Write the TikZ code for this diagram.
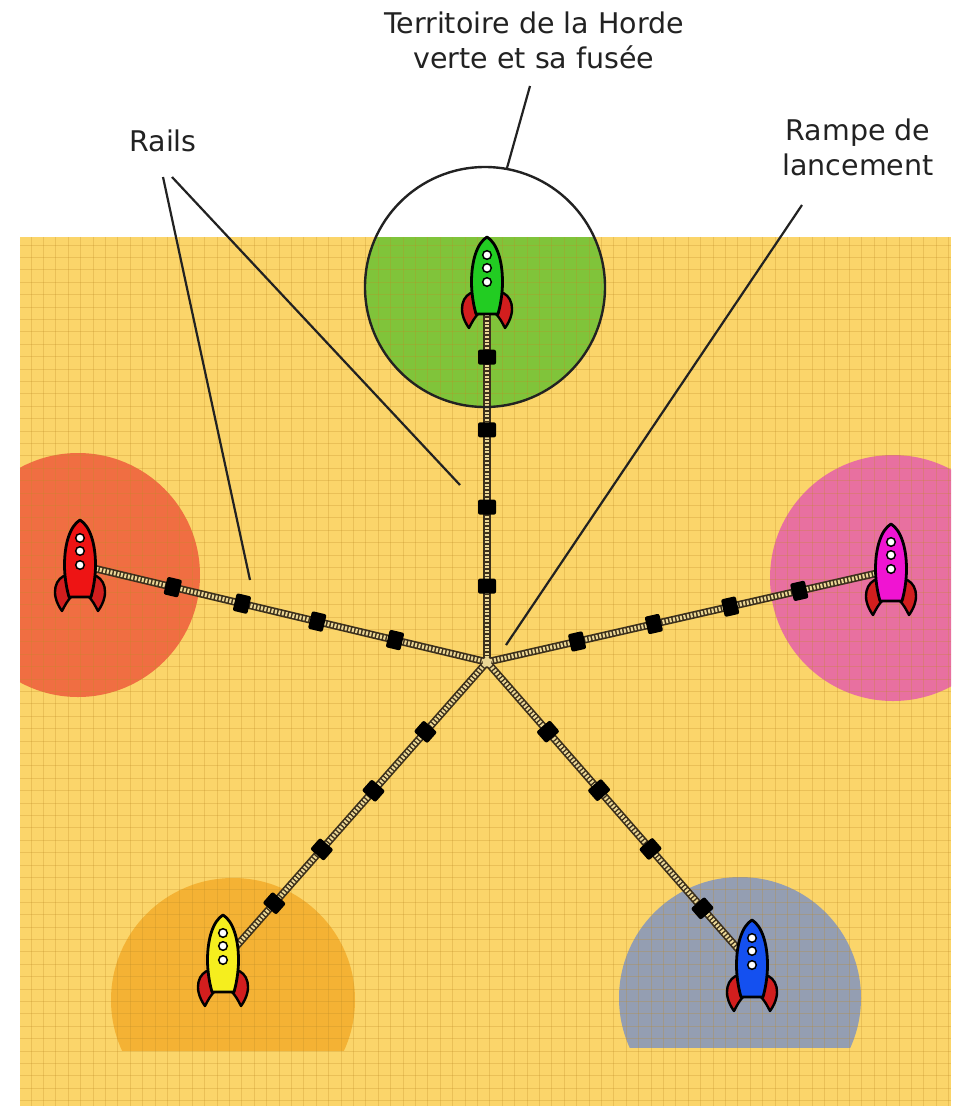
\documentclass[tikz,border=0pt]{standalone}
\usepackage{fontspec}
\setmainfont{DejaVu Sans}
\definecolor{sand}{RGB}{251,213,106}
\definecolor{gridtone}{RGB}{190,140,40}
\definecolor{zoneGreen}{RGB}{128,196,58}
\definecolor{zoneRed}{RGB}{240,110,66}
\definecolor{zonePink}{RGB}{232,112,160}
\definecolor{zoneOrange}{RGB}{244,178,52}
\definecolor{zoneGrey}{RGB}{148,158,178}
\definecolor{rocketGreen}{RGB}{34,204,34}
\definecolor{rocketRed}{RGB}{238,20,20}
\definecolor{rocketPink}{RGB}{240,20,210}
\definecolor{rocketYellow}{RGB}{245,238,30}
\definecolor{rocketBlue}{RGB}{20,80,240}
\definecolor{finRed}{RGB}{210,30,30}
\definecolor{railDark}{RGB}{60,48,28}
\definecolor{railLight}{RGB}{235,215,150}
\definecolor{ink}{RGB}{34,34,34}
\begin{document}
\begin{tikzpicture}[x=1pt,y=-1pt,
  gridline/.style={gridtone,opacity=0.28,line width=1pt},
  railbed/.style={railDark,line width=7.5pt},
  railties/.style={railLight,line width=4.2pt,dash pattern=on 2pt off 1.6pt},
  tie/.style={fill=black,rounded corners=2pt,minimum width=15pt,minimum height=18pt,inner sep=0pt,sloped,anchor=center},
  hubstyle/.style={circle,fill=railLight,minimum size=9pt,inner sep=0pt},
  pointer/.style={ink,line width=2.2pt},
  caption/.style={ink,font=\fontsize{28.5}{35}\selectfont,align=center,inner sep=0pt},
  pics/rocket/.style={code={
    % fins behind the body
    \draw[fill=finRed,line width=2.4pt,line join=round]
      (-13,55) .. controls (-24,57) and (-31,73) .. (-18,91)
      .. controls (-15,85) and (-12,80) .. (-9,77) -- cycle;
    \draw[fill=finRed,line width=2.4pt,line join=round]
      (13,55) .. controls (24,57) and (31,73) .. (18,91)
      .. controls (15,85) and (12,80) .. (9,77) -- cycle;
    % body
    \draw[fill=#1,line width=2.8pt,line join=round]
      (0,0) .. controls (10,6) and (15.5,24) .. (15.5,45)
      .. controls (15.5,58) and (13,70) .. (11,77)
      -- (-11,77)
      .. controls (-13,70) and (-15.5,58) .. (-15.5,45)
      .. controls (-15.5,24) and (-10,6) .. (0,0) -- cycle;
    % portholes
    \foreach \py in {18,31,45}
      \draw[fill=white,line width=1.5pt] (0,\py) circle[radius=4.3pt];
  }}
]
\useasboundingbox (0,0) rectangle (955,1106);
\fill[white] (0,0) rectangle (955,1106);

% playing field
\coordinate (fieldNW) at (20,237);
\coordinate (fieldSE) at (951,1106);
\fill[sand] (fieldNW) rectangle (fieldSE);

\begin{scope}
  \clip (fieldNW) rectangle (fieldSE);
  % territories
  \fill[zoneGreen] (485,287) circle[radius=120pt];
  \fill[zoneRed] (78,575) circle[radius=122pt];
  \fill[zonePink] (893,578) circle[radius=123pt];
  \begin{scope}
    \clip (0,0) rectangle (955,1050);
    \fill[zoneOrange] (233,1000) circle[radius=122pt];
  \end{scope}
  \begin{scope}
    \clip (0,0) rectangle (955,1047);
    \fill[zoneGrey] (740,998) circle[radius=121pt];
  \end{scope}
  % squared paper
  \foreach \i in {0,...,75}
    \draw[gridline] ({31+\i*12.4},237) -- ({31+\i*12.4},1106);
  \foreach \j in {0,...,70}
    \draw[gridline] (20,{245+\j*12.4}) -- (951,{245+\j*12.4});
\end{scope}

% launch pad and rails
\node[hubstyle] (hub) at (487,662) {};
\coordinate (endG) at (487,314);
\coordinate (endR) at (80,565);
\coordinate (endP) at (891,570);
\coordinate (endY) at (226,958);
\coordinate (endB) at (752,965);

\foreach \e in {endG,endR,endP,endY,endB}{
  \draw[railbed] (hub.center) -- (\e);
  \draw[railties] (hub.center) -- (\e);
}
\node[hubstyle] (hubtop) at (hub.center) {};

% sleepers along each rail
\foreach \e/\tag/\pa/\pb/\pc/\pd in {
    endG/G/.218/.445/.667/.876,
    endR/R/.226/.417/.602/.772,
    endP/P/.223/.413/.602/.773,
    endY/Y/.236/.435/.633/.815,
    endB/B/.230/.423/.617/.813}{
  \path (hub.center) -- (\e)
    node[tie,pos=\pa] (tie\tag1) {}
    node[tie,pos=\pb] (tie\tag2) {}
    node[tie,pos=\pc] (tie\tag3) {}
    node[tie,pos=\pd] (tie\tag4) {};
}

% rockets
\pic (rktG) at (487,237) {rocket=rocketGreen};
\pic (rktR) at (80,520) {rocket=rocketRed};
\pic (rktP) at (891,524) {rocket=rocketPink};
\pic (rktY) at (223,915) {rocket=rocketYellow};
\pic (rktB) at (752,920) {rocket=rocketBlue};

% outline of the green territory
\draw[ink,line width=2.4pt] (485,287) circle[radius=120pt];

% captions
\node[caption] (lblHorde) at (534,40) {Territoire de la Horde\\verte et sa fusée};
\node[caption,anchor=base] (lblRails) at (163,151) {Rails};
\node[caption] (lblRampe) at (858,147) {Rampe de\\lancement};

\coordinate (hordeA) at (530,86);
\coordinate (hordeB) at (507,168);
\coordinate (railsA) at (163,177);
\coordinate (railsB) at (172,177);
\coordinate (railsR) at (250,580);
\coordinate (railsG) at (460,485);
\coordinate (rampeA) at (802,205);
\coordinate (rampeB) at (506,645);

\draw[pointer] (hordeA) -- (hordeB);
\draw[pointer] (railsA) -- (railsR);
\draw[pointer] (railsB) -- (railsG);
\draw[pointer] (rampeA) -- (rampeB);
\end{tikzpicture}
\end{document}
